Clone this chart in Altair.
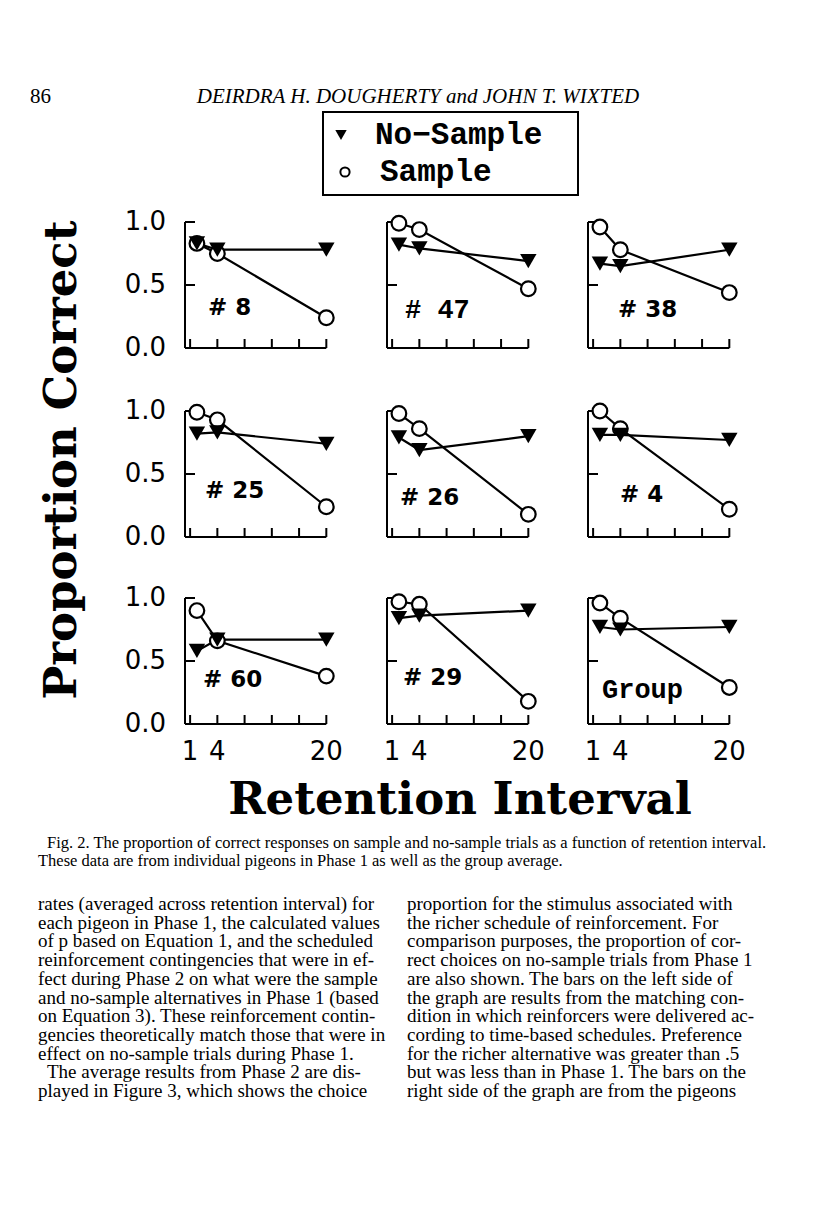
import altair as alt
import pandas as pd

# ---------------- data ----------------
intervals = [1, 4, 20]
series_names = ["No\u2212Sample", "Sample"]
panel_names = ["# 8", "# 47", "# 38", "# 25", "# 26", "# 4", "# 60", "# 29", "Group"]

no_sample_8 = [0.83, 0.78, 0.78]
sample_8 = [0.83, 0.75, 0.24]
no_sample_47 = [0.82, 0.79, 0.69]
sample_47 = [0.99, 0.94, 0.47]
no_sample_38 = [0.67, 0.65, 0.78]
sample_38 = [0.96, 0.78, 0.44]
no_sample_25 = [0.82, 0.83, 0.74]
sample_25 = [0.99, 0.93, 0.24]
no_sample_26 = [0.79, 0.69, 0.80]
sample_26 = [0.98, 0.86, 0.18]
no_sample_4 = [0.81, 0.81, 0.77]
sample_4 = [1.00, 0.86, 0.22]
no_sample_60 = [0.58, 0.67, 0.67]
sample_60 = [0.90, 0.66, 0.38]
no_sample_29 = [0.84, 0.86, 0.90]
sample_29 = [0.97, 0.95, 0.18]
no_sample_group = [0.77, 0.75, 0.77]
sample_group = [0.96, 0.84, 0.29]

no_sample = [no_sample_8, no_sample_47, no_sample_38, no_sample_25, no_sample_26,
             no_sample_4, no_sample_60, no_sample_29, no_sample_group]
sample = [sample_8, sample_47, sample_38, sample_25, sample_26,
          sample_4, sample_60, sample_29, sample_group]

x_ticks = [0, 4, 8, 12, 16, 20]
x_label_values = [0, 4, 20]
x_label_texts = ["1", "4", "20"]
y_ticks = [0.5, 1.0]
y_label_values = [0.0, 0.5, 1.0]
y_label_texts = ["0.0", "0.5", "1.0"]

y_title = "Proportion Correct"
x_title = "Retention Interval"
page_number = "86"
running_head = "DEIRDRA H. DOUGHERTY and JOHN T. WIXTED"
caption_lines = [
    "Fig. 2.   The proportion of correct responses on sample and no-sample trials as a function of retention interval.",
    "These data are from individual pigeons in Phase 1 as well as the group average.",
]
body_left = [
    "rates (averaged across retention interval) for",
    "each pigeon in Phase 1, the calculated values",
    "of p based on Equation 1, and the scheduled",
    "reinforcement contingencies that were in ef-",
    "fect during Phase 2 on what were the sample",
    "and no-sample alternatives in Phase 1 (based",
    "on Equation 3). These reinforcement contin-",
    "gencies theoretically match those that were in",
    "effect on no-sample trials during Phase 1.",
    "The average results from Phase 2 are dis-",
    "played in Figure 3, which shows the choice",
]
body_right = [
    "proportion for the stimulus associated with",
    "the richer schedule of reinforcement. For",
    "comparison purposes, the proportion of cor-",
    "rect choices on no-sample trials from Phase 1",
    "are also shown. The bars on the left side of",
    "the graph are results from the matching con-",
    "dition in which reinforcers were delivered ac-",
    "cording to time-based schedules. Preference",
    "for the richer alternative was greater than .5",
    "but was less than in Phase 1. The bars on the",
    "right side of the graph are from the pigeons",
]

# ---------------- layout / style ----------------
W, H = 800, 1190
PW, PH = 142, 126
X_DOM = [-0.75, 20.1]
COL_X = [177, 379, 580]
ROW_Y = [214, 403, 590]
SANS = "DejaVu Sans"
MONO = "Liberation Mono"
SERIF = "Liberation Serif"
label_style = {
    "# 8": (23, 86, SANS, "bold", 23), "# 47": (18, 88, MONO, "bold", 27),
    "# 38": (30, 88, SANS, "bold", 23), "# 25": (20, 80, SANS, "bold", 23),
    "# 26": (13, 87, SANS, "bold", 23), "# 4": (32, 84, SANS, "bold", 23),
    "# 60": (18, 82, SANS, "bold", 23), "# 29": (16, 80, SANS, "bold", 23),
    "Group": (14, 92, MONO, "bold", 27),
}
px_per_x = PW / (X_DOM[1] - X_DOM[0])


def make_panel(i):
    name = panel_names[i]
    row, col = divmod(i, 3)
    x0, y0 = COL_X[col], ROW_Y[row]
    xs = alt.Scale(domain=X_DOM, range=[x0, x0 + PW], nice=False, zero=False)
    ys = alt.Scale(domain=[0, 1], range=[y0 + PH, y0], nice=False, zero=False)

    df = pd.DataFrame({
        "interval": intervals * 2,
        "p": no_sample[i] + sample[i],
        "series": [series_names[0]] * 3 + [series_names[1]] * 3,
    })
    X = alt.X("interval:Q", scale=xs, axis=None)
    Y = alt.Y("p:Q", scale=ys, axis=None)
    base = alt.Chart(df).encode(x=X, y=Y)

    frame = pd.DataFrame({"a": [X_DOM[0], X_DOM[0]], "b": [20, X_DOM[0]],
                          "c": [0, 0], "d": [0, 1]})
    frame_r = alt.Chart(frame).mark_rule(color="black", strokeWidth=2).encode(
        x=alt.X("a:Q", scale=xs, axis=None), x2="b:Q",
        y=alt.Y("c:Q", scale=ys, axis=None), y2="d:Q")
    xt = alt.Chart(pd.DataFrame({"t": x_ticks, "c": 0.0, "d": 9 / PH})).mark_rule(
        color="black", strokeWidth=2).encode(
        x=alt.X("t:Q", scale=xs, axis=None), y=alt.Y("c:Q", scale=ys, axis=None), y2="d:Q")
    yt = alt.Chart(pd.DataFrame({"t": y_ticks, "a": X_DOM[0], "b": X_DOM[0] + 10 / px_per_x})).mark_rule(
        color="black", strokeWidth=2).encode(
        y=alt.Y("t:Q", scale=ys, axis=None), x=alt.X("a:Q", scale=xs, axis=None), x2="b:Q")

    lines = base.mark_line(color="black", strokeWidth=2.2).encode(detail="series:N")
    circles = base.transform_filter(alt.datum.series == series_names[1]).mark_point(
        shape="circle", filled=True, fill="white", stroke="black", strokeWidth=2.2,
        size=215, opacity=1)
    tris = base.transform_filter(alt.datum.series == series_names[0]).mark_point(
        shape="triangle-down", filled=True, color="black", size=270, opacity=1)

    lx, ly, lf, lw, ls = label_style[name]
    lab = alt.Chart(pd.DataFrame({"t": [name], "a": [X_DOM[0]], "c": [1.0]})).mark_text(
        font=lf, fontWeight=lw, fontSize=ls, align="left", baseline="middle", color="black",
        dx=lx, dy=ly).encode(
        text="t:N", x=alt.X("a:Q", scale=xs, axis=None), y=alt.Y("c:Q", scale=ys, axis=None))

    layers = [frame_r, xt, yt, lines, circles, tris, lab]
    if col == 0:
        ylab = alt.Chart(pd.DataFrame({"v": y_label_values, "t": y_label_texts, "a": X_DOM[0]})).mark_text(
            font=SANS, fontSize=26, align="right", baseline="middle", color="black", dx=-19).encode(
            y=alt.Y("v:Q", scale=ys, axis=None), x=alt.X("a:Q", scale=xs, axis=None), text="t:N")
        layers.append(ylab)
    if row == 2:
        xlab = alt.Chart(pd.DataFrame({"v": x_label_values, "t": x_label_texts, "c": 0.0})).mark_text(
            font=SANS, fontSize=26, align="center", baseline="middle", color="black", dy=28).encode(
            x=alt.X("v:Q", scale=xs, axis=None), y=alt.Y("c:Q", scale=ys, axis=None), text="t:N")
        layers.append(xlab)
    return alt.layer(*layers)


def txt(df, font, size, align="left", weight="normal", style="normal", angle=0):
    return alt.Chart(df).mark_text(
        font=font, fontSize=size, align=align, baseline="middle", fontWeight=weight,
        fontStyle=style, angle=angle, color="black").encode(
        x=alt.X("x:Q", scale=None), y=alt.Y("y:Q", scale=None), text="t:N")


# ---------------- page texts ----------------
head_num = txt(pd.DataFrame({"t": [page_number], "x": [22], "y": [89]}), SERIF, 21)
head_title = txt(pd.DataFrame({"t": [running_head], "x": [410], "y": [89]}), SERIF, 21,
                 align="center", style="italic")
legend_box = alt.Chart(pd.DataFrame({"x": [315], "x2": [570], "y": [104], "y2": [187]})).mark_rect(
    fill="white", stroke="black", strokeWidth=2).encode(
    x=alt.X("x:Q", scale=None), x2="x2:Q", y=alt.Y("y:Q", scale=None), y2="y2:Q")
legend_tri = alt.Chart(pd.DataFrame({"x": [333], "y": [127]})).mark_point(
    shape="triangle-down", filled=True, color="black", size=130, opacity=1).encode(
    x=alt.X("x:Q", scale=None), y=alt.Y("y:Q", scale=None))
legend_circ = alt.Chart(pd.DataFrame({"x": [337], "y": [164]})).mark_point(
    shape="circle", filled=True, fill="white", stroke="black", strokeWidth=2, size=85,
    opacity=1).encode(x=alt.X("x:Q", scale=None), y=alt.Y("y:Q", scale=None))
legend_txt = txt(pd.DataFrame({"t": series_names, "x": [367, 372], "y": [127, 164]}),
                 MONO, 31, weight="bold")

ytitle = txt(pd.DataFrame({"t": [y_title], "x": [54], "y": [452]}), "DejaVu Serif", 45,
             align="center", angle=270, weight="bold")
xt_title = txt(pd.DataFrame({"t": [x_title], "x": [452], "y": [792]}), "DejaVu Serif", 45,
               align="center", weight="bold")
cap = txt(pd.DataFrame({"t": caption_lines, "x": [39, 30], "y": [835, 853]}), SERIF, 16.5)
n = len(body_left)
body_y = [896 + 18.7 * k for k in range(n)]
body_l = txt(pd.DataFrame({"t": body_left, "x": [30] * 9 + [39] + [30], "y": body_y}), SERIF, 19)
body_r = txt(pd.DataFrame({"t": body_right, "x": [399] * n, "y": body_y}), SERIF, 19)

panels = [make_panel(i) for i in range(9)]

chart = alt.layer(
    head_num, head_title, legend_box, legend_tri, legend_circ, legend_txt,
    ytitle, xt_title, cap, body_l, body_r, *panels,
).resolve_scale(x="independent", y="independent").properties(
    width=W, height=H, padding=0, background="white").configure_view(strokeWidth=0)

chart.save("out.html", embed_options={"renderer": "svg", "actions": False})
